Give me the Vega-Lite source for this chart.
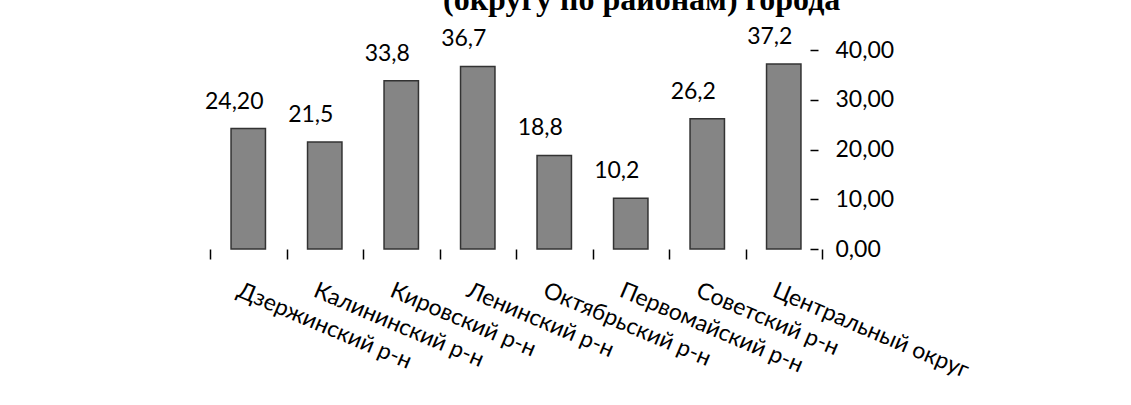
{
  "$schema": "https://vega.github.io/schema/vega-lite/v6.json",
  "autosize": {"type": "none"},
  "width": 612,
  "height": 199,
  "padding": {"left": 210, "top": 50, "right": 309, "bottom": 156},
  "background": "white",
  "title": {
    "text": "(округу по районам) города",
    "font": "Liberation Serif",
    "fontSize": 32,
    "fontWeight": "bold",
    "color": "black",
    "anchor": "start",
    "frame": "group",
    "baseline": "alphabetic",
    "dx": 233,
    "offset": 4,
    "dy": 20
  },
  "data": {
    "values": [
      {"district": "Дзержинский р-н", "value": 24.2, "label": "24,20"},
      {"district": "Калининский р-н", "value": 21.5, "label": "21,5"},
      {"district": "Кировский р-н", "value": 33.8, "label": "33,8"},
      {"district": "Ленинский р-н", "value": 36.7, "label": "36,7"},
      {"district": "Октябрьский р-н", "value": 18.8, "label": "18,8"},
      {"district": "Первомайский р-н", "value": 10.2, "label": "10,2"},
      {"district": "Советский р-н", "value": 26.2, "label": "26,2"},
      {"district": "Центральный округ", "value": 37.2, "label": "37,2"}
    ]
  },
  "encoding": {
    "x": {
      "field": "district",
      "type": "nominal",
      "sort": null,
      "scale": {"paddingInner": 0, "paddingOuter": 0},
      "axis": {
        "title": null,
        "domain": false,
        "ticks": true,
        "tickBand": "extent",
        "tickSize": 10,
        "tickColor": "black",
        "tickWidth": 1.5,
        "labelAngle": 23,
        "labelAlign": "left",
        "labelBaseline": "top",
        "labelPadding": 20,
        "labelOffset": -6,
        "labelFont": "Lato",
        "labelFontSize": 23,
        "labelColor": "black",
        "labelLimit": 400
      }
    },
    "y": {
      "field": "value",
      "type": "quantitative",
      "scale": {"domain": [0, 40], "nice": false},
      "axis": {
        "orient": "right",
        "title": null,
        "domain": false,
        "grid": false,
        "values": [0, 10, 20, 30, 40],
        "labelExpr": "replace(format(datum.value, '.2f'), '.', ',')",
        "offset": -12,
        "tickSize": 8,
        "tickColor": "black",
        "tickWidth": 1.5,
        "labelPadding": 17,
        "labelFont": "Lato",
        "labelFontSize": 23,
        "labelColor": "black"
      }
    }
  },
  "layer": [
    {
      "mark": {"type": "bar", "width": {"band": 0.45}, "fill": "#858585", "stroke": "#333333", "strokeWidth": 1.5}
    },
    {
      "mark": {"type": "text", "font": "Lato", "fontSize": 23, "color": "black", "baseline": "alphabetic", "align": "center", "dy": -20, "dx": -14},
      "encoding": {"text": {"field": "label"}}
    }
  ],
  "config": {"view": {"stroke": null}}
}
